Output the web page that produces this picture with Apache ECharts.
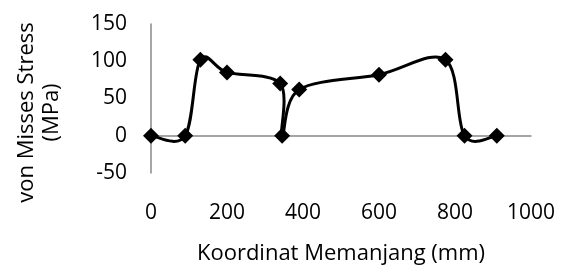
<!DOCTYPE html>
<html>
<head>
<meta charset="utf-8">
<script src="https://cdn.jsdelivr.net/npm/echarts@6/dist/echarts.min.js"></script>
<style>
  html, body { margin: 0; padding: 0; background: #fff; }
  #chart { width: 572px; height: 280px; }
</style>
</head>
<body>
<div id="chart"></div>
<script>
  // koordinat memanjang (mm) dan tegangan von Mises (MPa)
  const koordinat = [0, 90, 130, 200, 340, 345, 390, 600, 775, 825, 910];
  const stress = [0, 0, 102, 85, 70, 0, 62, 82, 102, 0, 0];

  const font = 'Open Sans';
  const points = koordinat.map((x, i) => [x, stress[i]]);

  // garis halus ala Excel (catmull-rom), tiap item menggambar satu segmen
  function renderSegment(params, api) {
    const i = params.dataIndex;
    if (i >= points.length - 1) return null;
    const p = k => api.coord(points[Math.max(0, Math.min(points.length - 1, k))]);
    const p0 = p(i - 1), p1 = p(i), p2 = p(i + 1), p3 = p(i + 2);
    const t = 1 / 6;
    return {
      type: 'bezierCurve',
      shape: {
        x1: p1[0], y1: p1[1],
        cpx1: p1[0] + (p2[0] - p0[0]) * t, cpy1: p1[1] + (p2[1] - p0[1]) * t,
        cpx2: p2[0] - (p3[0] - p1[0]) * t, cpy2: p2[1] - (p3[1] - p1[1]) * t,
        x2: p2[0], y2: p2[1]
      },
      style: { stroke: '#000', lineWidth: 3, fill: null }
    };
  }

  let options = {
    animation: false,
    grid: {
      left: 151,
      right: 41,
      top: 24,
      bottom: 107,
      outerBoundsMode: 'none'
    },
    xAxis: {
      type: 'value',
      min: 0,
      max: 1000,
      interval: 200,
      name: 'Koordinat Memanjang (mm)',
      nameLocation: 'middle',
      nameGap: 70,
      nameTextStyle: { fontFamily: font, fontSize: 22, color: '#000' },
      axisLine: { lineStyle: { color: '#888', width: 1.5 } },
      axisTick: { show: false },
      splitLine: { show: false },
      axisLabel: { margin: 30, fontFamily: font, fontSize: 21, color: '#000', formatter: v => String(v) }
    },
    yAxis: {
      type: 'value',
      min: -50,
      max: 150,
      interval: 50,
      name: 'von Misses Stress\n(MPa)',
      nameLocation: 'middle',
      nameRotate: 90,
      nameGap: 87,
      nameTextStyle: { fontFamily: font, fontSize: 22, color: '#000', lineHeight: 25, padding: [0, 28, 0, 0] },
      axisLine: { show: true, lineStyle: { color: '#888', width: 1.5 } },
      axisTick: { show: false },
      splitLine: { show: false },
      axisLabel: { margin: 24, fontFamily: font, fontSize: 21, color: '#000' }
    },
    series: [
      {
        type: 'custom',
        renderItem: renderSegment,
        data: points,
        encode: { x: 0, y: 1 },
        clip: false,
        silent: true
      },
      {
        type: 'scatter',
        data: points,
        symbol: 'diamond',
        symbolSize: 16,
        itemStyle: { color: '#000', opacity: 1 },
        z: 3
      }
    ]
  };

  const mycharts = echarts.init(document.getElementById('chart'));
  mycharts.setOption(options);
</script>
</body>
</html>
